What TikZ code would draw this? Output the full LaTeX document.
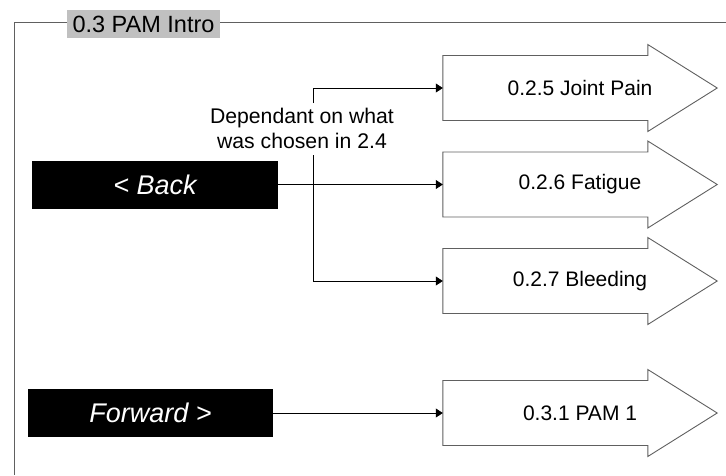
\documentclass[tikz,border=0pt]{standalone}
\usepackage{fontspec}
\setmainfont{Liberation Sans}
\usetikzlibrary{arrows.meta,calc}
\definecolor{edgegray}{RGB}{96,96,96}
\definecolor{titlegray}{RGB}{192,192,192}
\tikzset{
  frameline/.style={draw=edgegray, line width=0.9pt},
  navbtn/.style={fill=black, text=white, inner sep=0pt, minimum width=246, minimum height=48, font=\fontsize{27}{30}\selectfont\itshape},
  arrowslot/.style={inner sep=0pt, minimum width=274, minimum height=87, font=\fontsize{21}{24}\selectfont},
  arrowoutline/.style={draw=edgegray, line width=0.9pt, fill=white},
  conn/.style={draw=black, line width=0.8pt, -{Triangle[length=7pt,width=9pt]}},
  note/.style={fill=white, inner sep=1pt, align=center, font=\fontsize{21.2}{25}\selectfont},
}
\newcommand{\blockarrow}[1]{%
  \draw[arrowoutline] ($(#1.west)+(0,-32.5)$) -- ++(205,0) -- ++(0,-11) -- ($(#1.east)$)
    -- ($(#1.west)+(205,43.5)$) -- ++(0,-11) -- ($(#1.west)+(0,32.5)$) -- cycle;}
\begin{document}
\begin{tikzpicture}[x=1pt,y=-1pt]
\useasboundingbox (0,0) rectangle (726,475);
% frame
\coordinate (fr1) at (14.5,22.5);
\coordinate (fr2) at (726,22.5);
\coordinate (fr3) at (14.5,475);
\draw[frameline] (fr2) -- (fr1) -- (fr3);
\node[fill=titlegray, inner sep=0pt, minimum width=153, minimum height=28, font=\fontsize{23.5}{26}\selectfont] (title) at (143.5,24) {0.3 PAM Intro};
% arrow slots
\node[arrowslot] (joint) at (580,88) {};
\node[arrowslot] (fatigue) at (580,184.5) {};
\node[arrowslot] (bleed) at (580,281) {};
\node[arrowslot] (pam) at (580,413) {};
\blockarrow{joint}
\blockarrow{fatigue}
\blockarrow{bleed}
\blockarrow{pam}
\node[arrowslot] at (joint) {0.2.5 Joint Pain};
\node[arrowslot] at (fatigue) {0.2.6 Fatigue};
\node[arrowslot] at (bleed) {0.2.7 Bleeding};
\node[arrowslot] at (pam) {0.3.1 PAM 1};
% buttons
\node[navbtn] (back) at (155,185) {\textless{} Back};
\node[navbtn, minimum width=245] (fwd) at (150.5,413) {Forward \textgreater};
% note
\node[note] (dep) at (302,128) {Dependant on what\\was chosen in 2.4};
\coordinate (d1) at (313,103);
\coordinate (d2) at (313,155);
% connectors
\draw[conn] (back.east |- fatigue.west) -- (fatigue.west);
\draw[conn] (d1) |- (joint.west);
\draw[conn] (d2) |- (bleed.west);
\draw[conn] (fwd.east) -- (pam.west);
\end{tikzpicture}
\end{document}
